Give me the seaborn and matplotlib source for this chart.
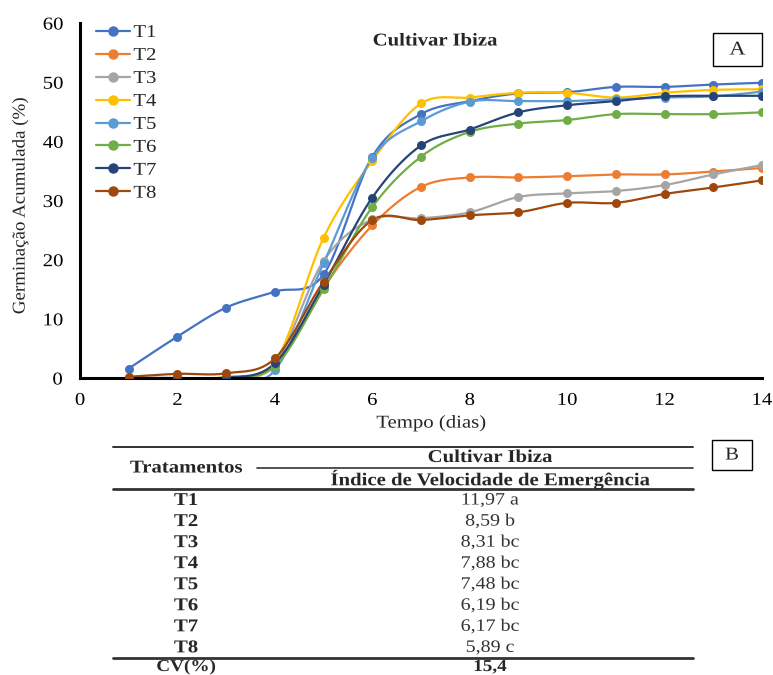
import numpy as np
import pandas as pd
import matplotlib
matplotlib.use("Agg")
import matplotlib.pyplot as plt
import matplotlib.text as mtext
from matplotlib.lines import Line2D
from matplotlib.patches import Rectangle
from matplotlib.patheffects import AbstractPathEffect
from matplotlib.transforms import Affine2D
import seaborn as sns

# ---------------- data ----------------
days = [1, 2, 3, 4, 5, 6, 7, 8, 9, 10, 11, 12, 13, 14]
series_names = ["T1", "T2", "T3", "T4", "T5", "T6", "T7", "T8"]
T1 = [1.6, 7.0, 11.9, 14.6, 17.5, 37.4, 44.6, 46.8, 48.1, 48.3, 49.2, 49.2, 49.6, 49.9]
T2 = [0.0, 0.0, 0.1, 2.0, 15.3, 25.8, 32.3, 33.9, 33.9, 34.1, 34.4, 34.4, 34.9, 35.5]
T3 = [0.0, 0.0, 0.1, 2.5, 19.8, 26.8, 27.0, 28.0, 30.6, 31.2, 31.6, 32.6, 34.4, 36.0]
T4 = [0.0, 0.0, 0.2, 2.6, 23.7, 36.7, 46.4, 47.4, 48.2, 48.2, 47.4, 48.2, 48.7, 48.8]
T5 = [0.0, 0.0, 0.0, 1.3, 19.4, 37.2, 43.4, 46.7, 46.8, 46.8, 47.1, 47.4, 47.6, 48.4]
T6 = [0.0, 0.0, 0.1, 2.0, 15.0, 28.9, 37.4, 41.6, 43.0, 43.6, 44.6, 44.6, 44.6, 44.9]
T7 = [0.0, 0.0, 0.0, 2.5, 15.8, 30.5, 39.3, 42.0, 44.9, 46.1, 46.8, 47.6, 47.7, 47.7]
T8 = [0.2, 0.7, 0.8, 3.3, 16.3, 26.7, 26.7, 27.5, 28.0, 29.6, 29.6, 31.1, 32.2, 33.4]
all_series = [T1, T2, T3, T4, T5, T6, T7, T8]
colors = ["#4472C4", "#ED7D31", "#A5A5A5", "#FFC000", "#5B9BD5", "#70AD47", "#264478", "#9E480E"]

x_ticks = [0, 2, 4, 6, 8, 10, 12, 14]
y_ticks = [0, 10, 20, 30, 40, 50, 60]

table_treat = ["T1", "T2", "T3", "T4", "T5", "T6", "T7", "T8"]
table_ive = ["11,97 a", "8,59 b", "8,31 bc", "7,88 bc", "7,48 bc", "6,19 bc", "6,17 bc", "5,89 c"]
cv_value = "15,4"

# ---------------- style ----------------
sns.set_style("white")
plt.rcParams["font.family"] = ["Liberation Serif", "DejaVu Serif"]


class HStretch(AbstractPathEffect):
    """Widen glyphs along the text direction (reference text is horizontally stretched)."""

    def __init__(self, sx=1.15):
        super().__init__()
        self.sx = sx

    def draw_path(self, renderer, gc, tpath, affine, rgbFace=None):
        ext = tpath.get_extents()
        cx = (ext.x0 + ext.x1) / 2.0
        t = Affine2D().translate(-cx, 0).scale(self.sx, 1).translate(cx, 0) + affine
        renderer.draw_path(gc, tpath, t, rgbFace)


W, H = 773, 675
fig = plt.figure(figsize=(W / 100, H / 100), dpi=100)


def fx(px):
    return px / W


def fy(py):
    return 1 - py / H


ax_l, ax_r, ax_t, ax_b = 80, 762, 23, 378
ax = fig.add_axes([fx(ax_l), fy(ax_b), fx(ax_r) - fx(ax_l), fy(ax_t) - fy(ax_b)])


def smooth(xs, ys, n=30):
    """Excel-like smoothed line (Bezier with Catmull-Rom control points)."""
    P = np.column_stack([xs, ys]).astype(float)
    m = len(P)
    out = []
    for i in range(m - 1):
        p0 = P[i - 1] if i > 0 else P[i]
        p1 = P[i]
        p2 = P[i + 1]
        p3 = P[i + 2] if i + 2 < m else P[i + 1]
        c1 = p1 + (p2 - p0) / 6.0
        c2 = p2 - (p3 - p1) / 6.0
        t = np.linspace(0, 1, n, endpoint=(i == m - 2))[:, None]
        b = ((1 - t) ** 3) * p1 + 3 * ((1 - t) ** 2) * t * c1 + 3 * (1 - t) * t ** 2 * c2 + t ** 3 * p2
        out.append(b)
    out = np.vstack(out)
    return out[:, 0], out[:, 1]


for name, vals, col in zip(series_names, all_series, colors):
    sx, sy = smooth(days, vals)
    dfc = pd.DataFrame({"x": sx, "y": sy})
    sns.lineplot(data=dfc, x="x", y="y", sort=False, estimator=None, color=col,
                 linewidth=1.6, ax=ax, legend=False)
    dfp = pd.DataFrame({"x": days, "y": vals})
    sns.scatterplot(data=dfp, x="x", y="y", color=col, s=42, edgecolor=col,
                    linewidth=0, ax=ax, legend=False, zorder=3)

ax.set_xlim(0, 14)
ax.set_ylim(0, 60)
ax.set_xticks(x_ticks)
ax.set_yticks(y_ticks)
ax.set_xlabel("")
ax.set_ylabel("")
for s in ["top", "right"]:
    ax.spines[s].set_visible(False)
for s in ["left", "bottom"]:
    ax.spines[s].set_linewidth(2.2)
    ax.spines[s].set_color("black")
ax.tick_params(axis="both", direction="inout", length=8, width=2, colors="black",
               labelsize=13)
ax.tick_params(axis="y", pad=9)
ax.tick_params(axis="x", pad=6)
ax.set_facecolor("white")

# legend
handles = [Line2D([0], [0], color=c, marker="o", markersize=6.5, linewidth=1.6)
           for c in colors]
leg = ax.legend(handles, series_names, loc="upper left",
                bbox_to_anchor=(fx(96), fy(24)), bbox_transform=fig.transFigure,
                frameon=False, fontsize=13, handlelength=1.9, handletextpad=0.25,
                labelspacing=0.33, borderaxespad=0, borderpad=0)

# title and box A
fig.text(fx(435), fy(41), "Cultivar Ibiza", fontsize=13, fontweight="bold",
         ha="center", va="center")
fig.patches.append(Rectangle((fx(713), fy(66)), fx(762) - fx(713), fy(33) - fy(66),
                             transform=fig.transFigure, fill=False, edgecolor="black",
                             linewidth=1.0))
fig.text(fx(737.5), fy(50), "A", fontsize=14, ha="center", va="center")

# axis labels
fig.text(fx(431), fy(423), "Tempo (dias)", fontsize=13, ha="center", va="center")
ylab = fig.text(fx(20), fy(206), "Germinação Acumulada (%)", fontsize=13, ha="center",
                va="center", rotation=90)

# ---------------- table ----------------
tl, tr = 113, 693


def hline(y, x0, x1, lw):
    fig.add_artist(Line2D([fx(x0), fx(x1)], [fy(y), fy(y)], transform=fig.transFigure,
                          color="#333333", linewidth=lw))


hline(447.3, tl, tr, 1.4)
hline(467.5, 257, tr, 1.2)
hline(489, tl, tr, 2.0)
hline(657.5, tl, tr, 2.0)

col1_x, col2_x = 186, 490
fig.text(fx(col1_x), fy(468), "Tratamentos", fontsize=13, fontweight="bold",
         ha="center", va="center")
fig.text(fx(col2_x), fy(457.5), "Cultivar Ibiza", fontsize=13, fontweight="bold",
         ha="center", va="center")
fig.text(fx(col2_x), fy(479), "Índice de Velocidade de Emergência", fontsize=13,
         fontweight="bold", ha="center", va="center")
row_y0, row_dy = 500.5, 21.05
for i, (t, v) in enumerate(zip(table_treat, table_ive)):
    yy = row_y0 + i * row_dy
    fig.text(fx(col1_x), fy(yy), t, fontsize=13, fontweight="bold", ha="center", va="center")
    fig.text(fx(col2_x), fy(yy), v, fontsize=12.5, ha="center", va="center", color="#333333")
fig.text(fx(col1_x), fy(667), "CV(%)", fontsize=12, fontweight="bold", ha="center", va="center")
fig.text(fx(col2_x), fy(667), cv_value, fontsize=12, fontweight="bold", ha="center", va="center")

# box B
fig.patches.append(Rectangle((fx(712), fy(470)), fx(752) - fx(712), fy(440) - fy(470),
                             transform=fig.transFigure, fill=False, edgecolor="black",
                             linewidth=1.0))
fig.text(fx(732), fy(455), "B", fontsize=13, ha="center", va="center")

fig.canvas.draw()
for txt in fig.findobj(mtext.Text):
    if txt.get_text():
        txt.set_path_effects([HStretch(1.05 if txt is ylab else 1.15)])

fig.savefig("out.png", dpi=100, facecolor="white")
